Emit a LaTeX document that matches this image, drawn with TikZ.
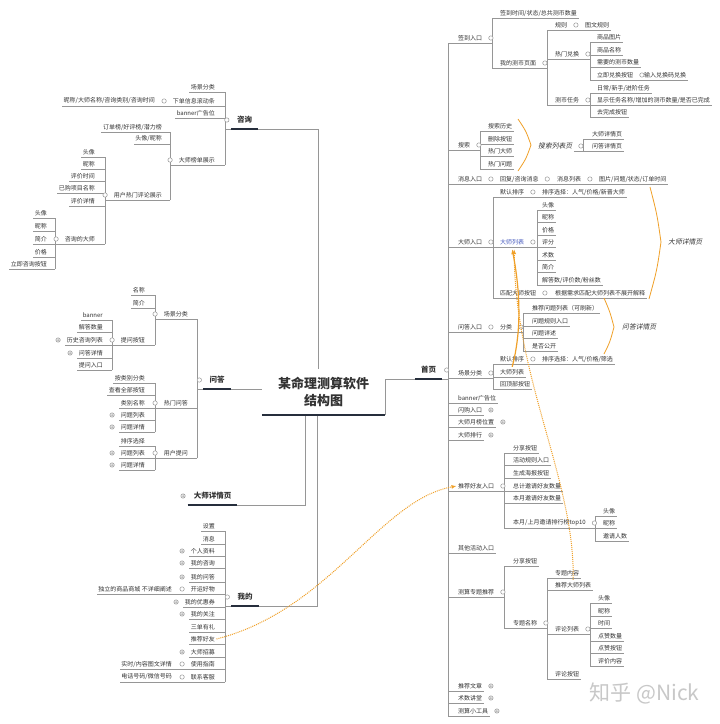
\documentclass[tikz,border=0pt]{standalone}
\usepackage{fontspec}
\setmainfont{Noto Sans CJK SC}
\newfontfamily\cjkit[FakeSlant=0.2]{Noto Sans CJK SC}
\usetikzlibrary{arrows.meta}
\definecolor{tc}{RGB}{51,51,51}
\definecolor{lc}{RGB}{150,150,150}
\definecolor{hc}{RGB}{38,46,60}
\definecolor{oc}{RGB}{240,160,40}
\definecolor{bc}{RGB}{70,90,190}
\definecolor{wc}{RGB}{200,200,200}
\tikzset{
  rt/.style={anchor=west, inner xsep=1.5pt, inner ysep=0pt, minimum height=10pt, text=tc, font=\fontsize{6}{7}\selectfont},
  lt/.style={rt, anchor=east},
  mainnode/.style={inner xsep=6pt, inner ysep=0pt, minimum height=18pt, text=tc, font=\fontsize{7.5}{9}\selectfont\bfseries},
  sumlabel/.style={rt, font=\cjkit\fontsize{6.8}{8}\selectfont},
  ln/.style={draw=lc, line width=0.6pt},
  fold/.style={draw=lc, fill=white, line width=0.5pt},
  heavy/.style={draw=hc, line width=2pt},
  rel/.style={draw=oc, line width=1.2pt, -{Latex[length=5pt,width=4pt]}},
  reldot/.style={rel, line width=1pt, densely dotted},
  brace/.style={draw=oc, line width=0.8pt}
}
\begin{document}
\begin{tikzpicture}[x=1pt,y=-1pt]
\useasboundingbox[fill=white] (0,0) rectangle (720,724);
% root and main topics
\node[mainnode, font=\fontsize{13}{17}\selectfont\bfseries, align=center, inner xsep=16pt, minimum height=46pt] (root) at (323.5,392) {某命理测算软件\\结构图};
\node[mainnode] (home) at (428.5,370) {首页};
\node[mainnode] (zx) at (244.5,120) {咨询};
\node[mainnode] (wdq) at (217,380) {问答};
\node[mainnode] (dxq) at (212.5,496) {大师详情页};
\node[mainnode] (wdm) at (245,597) {我的};

% home page
\node[rt] (qd) at (456.5,38) {签到入口};
\node[rt] (qd1) at (498.5,13) {签到时间/状态/总共测币数量};
\node[rt] (qd2) at (498.5,63) {我的测币页面};
\node[rt] (gz) at (553.5,25) {规则};
\node[rt] (gz1) at (583.5,25) {图文规则};
\node[rt] (dh) at (553.5,54) {热门兑换};
\node[rt] (dh1) at (595.5,37) {商品图片};
\node[rt] (dh2) at (595.5,50) {商品名称};
\node[rt] (dh3) at (595.5,62) {需要的测币数量};
\node[rt] (dh4) at (595.5,75) {立即兑换按钮};
\node[rt] (dh5) at (642.5,75) {输入兑换码兑换};
\node[rt] (rw) at (553.5,100) {测币任务};
\node[rt] (rw1) at (595.5,88) {日常/新手/进阶任务};
\node[rt] (rw2) at (595.5,100) {显示任务名称/增加的测币数量/是否已完成};
\node[rt] (rw3) at (595.5,112) {去完成按钮};
\node[rt] (ss) at (456.5,145) {搜索};
\node[rt] (ss1) at (486.5,126) {搜索历史};
\node[rt] (ss2) at (486.5,139) {删除按钮};
\node[rt] (ss3) at (486.5,151) {热门大师};
\node[rt] (ss4) at (486.5,164) {热门问题};
\node[sumlabel] (sl) at (536.5,146) {搜索列表页};
\node[rt] (sl1) at (590.5,134) {大师详情页};
\node[rt] (sl2) at (590.5,146) {问答详情页};
\node[rt] (xx) at (456.5,179) {消息入口};
\node[rt] (xx1) at (498.5,179) {回复/咨询消息};
\node[rt] (xx2) at (555.5,179) {消息列表};
\node[rt] (xx3) at (597.5,179) {图片/问题/状态/订单时间};
\node[rt] (ds) at (456.5,242) {大师入口};
\node[rt] (ds1) at (498.5,192) {默认排序};
\node[rt] (ds1a) at (540.5,192) {排序选择：人气/价格/新晋大师};
\node[rt, text=bc] (ds2) at (498.5,242) {大师列表};
\node[rt] (ml1) at (540.5,205) {头像};
\node[rt] (ml2) at (540.5,217) {昵称};
\node[rt] (ml3) at (540.5,230) {价格};
\node[rt] (ml4) at (540.5,242) {评分};
\node[rt] (ml5) at (540.5,255) {术数};
\node[rt] (ml6) at (540.5,267) {简介};
\node[rt] (ml7) at (540.5,280) {解答数/评价数/粉丝数};
\node[rt] (ds3) at (498.5,293) {匹配大师按钮};
\node[rt] (ds3a) at (553.5,293) {根据需求匹配大师列表不展开解释};
\node[sumlabel] (dx) at (666.5,242) {大师详情页};
\node[rt] (wd) at (456.5,327) {问答入口};
\node[rt] (wd1) at (498.5,327) {分类};
\node[rt] (wd2) at (530.5,308) {推荐问题列表（可刷新）};
\node[rt] (wd3) at (530.5,321) {问题规则入口};
\node[rt] (wd4) at (530.5,333) {问题详述};
\node[rt] (wd5) at (530.5,346) {是否公开};
\node[sumlabel] (wx) at (620.5,327) {问答详情页};
\node[rt] (cj) at (456.5,373) {场景分类};
\node[rt] (cj1) at (498.5,359) {默认排序};
\node[rt] (cj1a) at (540.5,359) {排序选择：人气/价格/筛选};
\node[rt] (cj2) at (498.5,372) {大师列表};
\node[rt] (cj3) at (498.5,384) {回顶部按钮};
\node[rt] (bn) at (456.5,398) {banner广告位};
\node[rt] (sg) at (456.5,410) {闪购入口};
\node[rt] (yb) at (456.5,422) {大师月榜位置};
\node[rt] (ph) at (456.5,435) {大师排行};
\node[rt] (tj) at (456.5,486) {推荐好友入口};
\node[rt] (tj1) at (511.5,448) {分享按钮};
\node[rt] (tj2) at (511.5,460) {活动规则入口};
\node[rt] (tj3) at (511.5,473) {生成海报按钮};
\node[rt] (tj4) at (511.5,486) {总计邀请好友数量};
\node[rt] (tj5) at (511.5,498) {本月邀请好友数量};
\node[rt] (tj6) at (511.5,523) {本月/上月邀请排行榜top10};
\node[rt] (tj7) at (601.5,511) {头像};
\node[rt] (tj8) at (601.5,523) {昵称};
\node[rt] (tj9) at (601.5,536) {邀请人数};
\node[rt] (qt) at (456.5,548) {其他活动入口};
\node[rt] (zt) at (456.5,592) {测算专题推荐};
\node[rt] (zt1) at (511.5,561) {分享按钮};
\node[rt] (zt2) at (511.5,623) {专题名称};
\node[rt] (zt3) at (553.5,573) {专题内容};
\node[rt] (zt4) at (553.5,585) {推荐大师列表};
\node[rt] (zt5) at (553.5,629) {评论列表};
\node[rt] (pl1) at (596.5,598) {头像};
\node[rt] (pl2) at (596.5,611) {昵称};
\node[rt] (pl3) at (596.5,623) {时间};
\node[rt] (pl4) at (596.5,636) {点赞数量};
\node[rt] (pl5) at (596.5,648) {点赞按钮};
\node[rt] (pl6) at (596.5,661) {评价内容};
\node[rt] (zt6) at (553.5,674) {评论按钮};
\node[rt] (wz) at (456.5,686) {推荐文章};
\node[rt] (jt) at (456.5,698) {术数讲堂};
\node[rt] (gj) at (456.5,711) {测算小工具};

% consulting
\node[lt] (zx1) at (216.5,87) {场景分类};
\node[lt] (zx2) at (216.5,101) {下单信息滚动条};
\node[lt] (zx2a) at (156.5,101) {昵称/大师名称/咨询类别/咨询时间};
\node[lt] (zx3) at (216.5,113) {banner广告位};
\node[lt] (zx4) at (216.5,160) {大师榜单展示};
\node[lt] (zx5) at (163.5,127) {订单榜/好评榜/潜力榜};
\node[lt] (zx6) at (163.5,139) {头像/昵称};
\node[lt] (zx7) at (163.5,195) {用户热门评论展示};
\node[lt] (pj1) at (96.5,152) {头像};
\node[lt] (pj2) at (96.5,164) {昵称};
\node[lt] (pj3) at (96.5,176) {评价时间};
\node[lt] (pj4) at (96.5,188) {已购项目名称};
\node[lt] (pj5) at (96.5,201) {评价详情};
\node[lt] (pj6) at (96.5,239) {咨询的大师};
\node[lt] (zd1) at (48.5,213) {头像};
\node[lt] (zd2) at (48.5,226) {昵称};
\node[lt] (zd3) at (48.5,239) {简介};
\node[lt] (zd4) at (48.5,252) {价格};
\node[lt] (zd5) at (48.5,264) {立即咨询按钮};

% questions and answers
\node[lt] (wq1) at (189.5,314) {场景分类};
\node[lt] (wq2) at (146.5,290) {名称};
\node[lt] (wq3) at (146.5,303) {简介};
\node[lt] (wq4) at (146.5,340) {提问按钮};
\node[lt] (wq5) at (104.5,315) {banner};
\node[lt] (wq6) at (104.5,327) {解答数量};
\node[lt] (wq7) at (104.5,340) {历史咨询列表};
\node[lt] (wq8) at (104.5,353) {问答详情};
\node[lt] (wq9) at (104.5,365) {提问入口};
\node[lt] (wq10) at (189.5,403) {热门问答};
\node[lt] (wq11) at (146.5,378) {按类别分类};
\node[lt] (wq12) at (146.5,390) {查看全部按钮};
\node[lt] (wq13) at (146.5,403) {类别名称};
\node[lt] (wq14) at (146.5,415) {问题列表};
\node[lt] (wq15) at (146.5,427) {问题详情};
\node[lt] (wq16) at (189.5,453) {用户提问};
\node[lt] (wq17) at (146.5,441) {排序选择};
\node[lt] (wq18) at (146.5,453) {问题列表};
\node[lt] (wq19) at (146.5,465) {问题详情};

% mine
\node[lt] (m1) at (216.5,526) {设置};
\node[lt] (m2) at (216.5,539) {消息};
\node[lt] (m3) at (216.5,551) {个人资料};
\node[lt] (m4) at (216.5,563) {我的咨询};
\node[lt] (m5) at (216.5,577) {我的问答};
\node[lt] (m6) at (216.5,589) {开运好物};
\node[lt] (m6a) at (173.5,589) {独立的商品商城 不详细阐述};
\node[lt] (m7) at (216.5,602) {我的优惠券};
\node[lt] (m8) at (216.5,614) {我的关注};
\node[lt] (m9) at (216.5,627) {三单有礼};
\node[lt] (m10) at (216.5,639) {推荐好友};
\node[lt] (m11) at (216.5,652) {大师招募};
\node[lt] (m12) at (216.5,664) {使用指南};
\node[lt] (m12a) at (173.5,664) {实时/内容图文详情};
\node[lt] (m13) at (216.5,677) {联系客服};
\node[lt] (m13a) at (173.5,677) {电话号码/微信号码};

\node[anchor=west, text=wc, font=\fontsize{21}{21}\selectfont] (mark) at (586,693) {知乎 @Nick};

% buses
\foreach \b/\x in {bh/448,bqd/492,bqd2/547,bgz/577,bdh/590,bdh4/636,brw/590,bss/480,bsl/583,bxx/492,bxx1/549,bxx2/591,bds/493,bds1/534,bds2/537,bds3/547,bwd/492,bwd1/523,bcj/493,bcj1/534,btj/504,btj6/595,bzt/504,bzt2/547,bzt5/590,bzx/225,bzx2/163,bzx4/170,bzx7/105,bpj6/55,bwdq/197,bwq1/155,bwq4/112,bwq10/155,bwq16/155,bwdm/225,bm6/180,bm12/180,bm13/180}
  \coordinate (\b) at (\x,0);
\foreach \b/\f/\t in {bh/qd/gj,bqd/qd1/qd2,bqd2/gz/rw,bdh/dh1/dh4,brw/rw1/rw3,bss/ss1/ss4,bsl/sl1/sl2,bds/ds1/ds3,bds2/ml1/ml7,bwd1/wd2/wd5,bcj/cj1/cj3,btj/tj1/tj6,btj6/tj7/tj9,bzt/zt1/zt2,bzt2/zt3/zt6,bzt5/pl1/pl6,bzx/zx1/zx4,bzx4/zx5/zx7,bzx7/pj1/pj6,bpj6/zd1/zd5,bwdq/wq1/wq16,bwq1/wq2/wq4,bwq4/wq5/wq9,bwq10/wq11/wq15,bwq16/wq17/wq19,bwdm/m1/m13}
  \draw[ln] (\f.south -| \b) -- (\t.south -| \b);

% underlines, right side
\foreach \b/\l in {bh/{qd,ss,xx,ds,wd,cj,bn,sg,yb,ph,tj,qt,zt,wz,jt,gj},bqd/{qd1,qd2},bqd2/{gz,dh,rw},bgz/{gz1},bdh/{dh1,dh2,dh3,dh4},bdh4/{dh5},brw/{rw1,rw2,rw3},bss/{ss1,ss2,ss3,ss4},bsl/{sl1,sl2},bxx/{xx1},bxx1/{xx2},bxx2/{xx3},bds/{ds1,ds2,ds3},bds1/{ds1a},bds2/{ml1,ml2,ml3,ml4,ml5,ml6,ml7},bds3/{ds3a},bwd/{wd1},bwd1/{wd2,wd3,wd4,wd5},bcj/{cj1,cj2,cj3},bcj1/{cj1a},btj/{tj1,tj2,tj3,tj4,tj5,tj6},btj6/{tj7,tj8,tj9},bzt/{zt1,zt2},bzt2/{zt3,zt4,zt5,zt6},bzt5/{pl1,pl2,pl3,pl4,pl5,pl6}}
  \foreach \k in \l \draw[ln] (\k.south -| \b) -- (\k.south east);
\foreach \p/\b in {home/bh,qd/bqd,qd2/bqd2,gz/bgz,dh/bdh,dh4/bdh4,rw/brw,ss/bss,sl/bsl,xx/bxx,xx1/bxx1,xx2/bxx2,ds/bds,ds1/bds1,ds2/bds2,ds3/bds3,wd/bwd,wd1/bwd1,cj/bcj,cj1/bcj1,tj/btj,tj6/btj6,zt/bzt,zt2/bzt2,zt5/bzt5}
  \draw[ln] (\p.south east) -- (\p.south -| \b);

% underlines, left side
\foreach \b/\l in {bzx/{zx1,zx2,zx3,zx4},bzx2/{zx2a},bzx4/{zx5,zx6,zx7},bzx7/{pj1,pj2,pj3,pj4,pj5,pj6},bpj6/{zd1,zd2,zd3,zd4,zd5},bwdq/{wq1,wq10,wq16},bwq1/{wq2,wq3,wq4},bwq4/{wq5,wq6,wq7,wq8,wq9},bwq10/{wq11,wq12,wq13,wq14,wq15},bwq16/{wq17,wq18,wq19},bwdm/{m1,m2,m3,m4,m5,m6,m7,m8,m9,m10,m11,m12,m13},bm6/{m6a},bm12/{m12a},bm13/{m13a}}
  \foreach \k in \l \draw[ln] (\k.south -| \b) -- (\k.south west);
\foreach \p/\b in {zx/bzx,zx2/bzx2,zx4/bzx4,zx7/bzx7,pj6/bpj6,wdq/bwdq,wq1/bwq1,wq4/bwq4,wq10/bwq10,wq16/bwq16,wdm/bwdm,m6/bm6,m12/bm12,m13/bm13}
  \draw[ln] (\p.south west) -- (\p.south -| \b);

% to the root
\draw[ln] (root.south east) |- (home.south west);
\draw[ln] (zx.south east) -| ([xshift=-5.5pt]root.north);
\draw[ln] (wdq.south east) -- (wdq.south -| root.west);
\draw[ln] (dxq.south east) -| ([xshift=-18.5pt]root.south);
\draw[ln] (wdm.south east) -| ([xshift=-6.5pt]root.south);
\foreach \n in {root,home,zx,wdq,dxq,wdm}
  \draw[heavy] (\n.south west) -- (\n.south east);

% fold marks
\foreach \n in {qd,qd2,gz,dh,dh4,rw,ss,sl,xx,xx1,xx2,ds,ds1,ds2,ds3,wd,wd1,cj,cj1,tj,tj6,zt,zt2,zt5}
  \draw[fold] ([xshift=7pt]\n.east) circle (2.2pt);
\foreach \n in {zx2,zx4,zx7,pj6,wq1,wq4,wq10,wq16,m6,m12,m13}
  \draw[fold] ([xshift=-7pt]\n.west) circle (2.2pt);
\draw[fold] ([xshift=4.5pt]home.east) circle (2.2pt);
\foreach \n in {zx,wdq,wdm}
  \draw[fold] ([xshift=-4pt]\n.west) circle (2.2pt);
\foreach \n in {sg,yb,ph,wz,jt,gj}
  \draw[fold] ([xshift=7pt]\n.east) circle (2.2pt) +(-1.3pt,0) -- +(1.3pt,0) +(0,-1.3pt) -- +(0,1.3pt);
\foreach \n in {m3,m4,m5,m7,m8,m11,wq7,wq8,wq14,wq15,wq18,wq19}
  \draw[fold] ([xshift=-7pt]\n.west) circle (2.2pt) +(-1.3pt,0) -- +(1.3pt,0) +(0,-1.3pt) -- +(0,1.3pt);
\draw[fold] ([xshift=-4.5pt]dxq.west) circle (2.2pt) +(-1.3pt,0) -- +(1.3pt,0) +(0,-1.3pt) -- +(0,1.3pt);

% summaries and relations
\draw[brace] (518,119) .. controls (526,131) .. (531,145) .. controls (526,159) .. (518,171);
\draw[brace] (650,187) .. controls (657,214) .. (661,242) .. controls (657,270) .. (649,299);
\draw[brace] (604,298) .. controls (610,312) .. (614,327) .. controls (610,342) .. (604,354);
\draw[rel] (cj2.north) .. controls (522,330) and (520,290) .. ([yshift=-2pt]ds2.south);
\draw[reldot] (zt4.north) .. controls (575,480) and (515,380) .. ([xshift=2pt,yshift=-2pt]ds2.south);
\draw[reldot] (m10.east) .. controls (330,610) and (380,500) .. (tj.west);
\end{tikzpicture}
\end{document}
